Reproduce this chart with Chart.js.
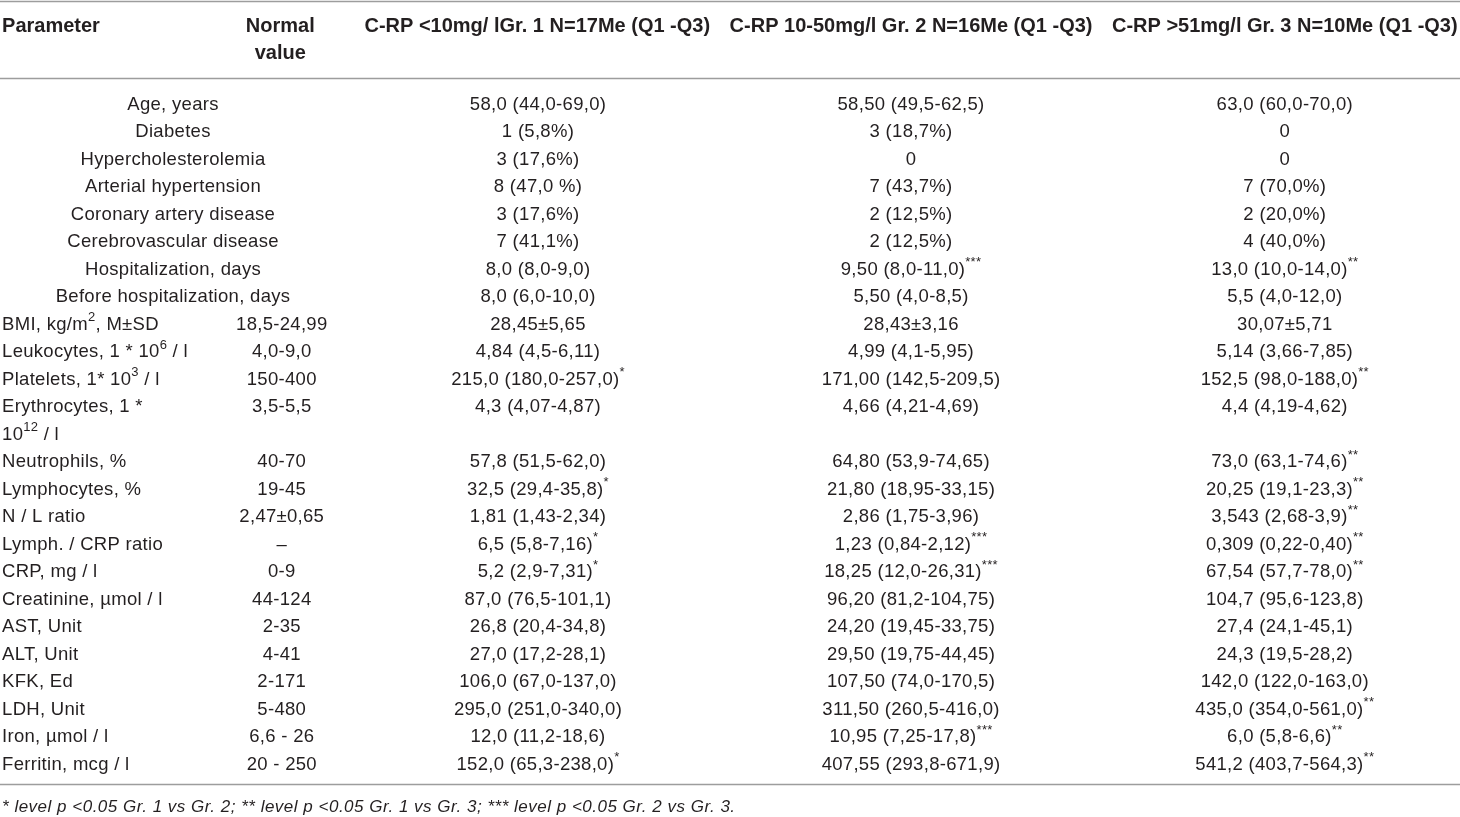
<!DOCTYPE html>
<html>
<head>
<meta charset="utf-8">
<script src="https://cdn.jsdelivr.net/npm/chart.js@4.4.1/dist/chart.umd.min.js"></script>
<style>
  html, body { margin: 0; padding: 0; background: #fff; }
  #box { width: 1460px; height: 817px; }
</style>
</head>
<body>
<div id="box"><canvas id="tabela"></canvas></div>
<script>
// column headers ("\n" = line break)
const headers = [
  'Parameter',
  'Normal\nvalue',
  'C-RP <10mg/ lGr. 1 N=17Me (Q1 -Q3)',
  'C-RP 10-50mg/l Gr. 2 N=16Me (Q1 -Q3)',
  'C-RP >51mg/l Gr. 3 N=10Me (Q1 -Q3)'
];

// ^x^ = superscript
const parameters = [
  'Age, years',
  'Diabetes',
  'Hypercholesterolemia',
  'Arterial hypertension',
  'Coronary artery disease',
  'Cerebrovascular disease',
  'Hospitalization, days',
  'Before hospitalization, days',
  'BMI, kg/m^2^, M±SD',
  'Leukocytes, 1 * 10^6^ / l',
  'Platelets, 1* 10^3^ / l',
  'Erythrocytes, 1 *\n10^12^ / l',
  'Neutrophils, %',
  'Lymphocytes, %',
  'N / L ratio',
  'Lymph. / CRP ratio',
  'CRP, mg / l',
  'Creatinine, µmol / l',
  'AST, Unit',
  'ALT, Unit',
  'KFK, Ed',
  'LDH, Unit',
  'Iron, µmol / l',
  'Ferritin, mcg / l'
];

const normalValues = [
  '', '', '', '', '', '', '', '',
  '18,5-24,99',
  '4,0-9,0',
  '150-400',
  '3,5-5,5',
  '40-70',
  '19-45',
  '2,47±0,65',
  '–',
  '0-9',
  '44-124',
  '2-35',
  '4-41',
  '2-171',
  '5-480',
  '6,6 - 26',
  '20 - 250'
];

const group1 = [
  '58,0 (44,0-69,0)',
  '1 (5,8%)',
  '3 (17,6%)',
  '8 (47,0 %)',
  '3 (17,6%)',
  '7 (41,1%)',
  '8,0 (8,0-9,0)',
  '8,0 (6,0-10,0)',
  '28,45±5,65',
  '4,84 (4,5-6,11)',
  '215,0 (180,0-257,0)^*^',
  '4,3 (4,07-4,87)',
  '57,8 (51,5-62,0)',
  '32,5 (29,4-35,8)^*^',
  '1,81 (1,43-2,34)',
  '6,5 (5,8-7,16)^*^',
  '5,2 (2,9-7,31)^*^',
  '87,0 (76,5-101,1)',
  '26,8 (20,4-34,8)',
  '27,0 (17,2-28,1)',
  '106,0 (67,0-137,0)',
  '295,0 (251,0-340,0)',
  '12,0 (11,2-18,6)',
  '152,0 (65,3-238,0)^*^'
];

const group2 = [
  '58,50 (49,5-62,5)',
  '3 (18,7%)',
  '0',
  '7 (43,7%)',
  '2 (12,5%)',
  '2 (12,5%)',
  '9,50 (8,0-11,0)^***^',
  '5,50 (4,0-8,5)',
  '28,43±3,16',
  '4,99 (4,1-5,95)',
  '171,00 (142,5-209,5)',
  '4,66 (4,21-4,69)',
  '64,80 (53,9-74,65)',
  '21,80 (18,95-33,15)',
  '2,86 (1,75-3,96)',
  '1,23 (0,84-2,12)^***^',
  '18,25 (12,0-26,31)^***^',
  '96,20 (81,2-104,75)',
  '24,20 (19,45-33,75)',
  '29,50 (19,75-44,45)',
  '107,50 (74,0-170,5)',
  '311,50 (260,5-416,0)',
  '10,95 (7,25-17,8)^***^',
  '407,55 (293,8-671,9)'
];

const group3 = [
  '63,0 (60,0-70,0)',
  '0',
  '0',
  '7 (70,0%)',
  '2 (20,0%)',
  '4 (40,0%)',
  '13,0 (10,0-14,0)^**^',
  '5,5 (4,0-12,0)',
  '30,07±5,71',
  '5,14 (3,66-7,85)',
  '152,5 (98,0-188,0)^**^',
  '4,4 (4,19-4,62)',
  '73,0 (63,1-74,6)^**^',
  '20,25 (19,1-23,3)^**^',
  '3,543 (2,68-3,9)^**^',
  '0,309 (0,22-0,40)^**^',
  '67,54 (57,7-78,0)^**^',
  '104,7 (95,6-123,8)',
  '27,4 (24,1-45,1)',
  '24,3 (19,5-28,2)',
  '142,0 (122,0-163,0)',
  '435,0 (354,0-561,0)^**^',
  '6,0 (5,8-6,6)^**^',
  '541,2 (403,7-564,3)^**^'
];

// first rows are centred over the first two columns
const centredRows = 8;

const footnote = '* level p <0.05 Gr. 1 vs Gr. 2; ** level p <0.05 Gr. 1 vs Gr. 3; *** level p <0.05 Gr. 2 vs Gr. 3.';

// layout (x in % of width, y in text-line slots)
const colX = { left: 0.14, merged: 11.85, normal: 19.3, g1: 36.85, g2: 62.4, g3: 88.0 };
const headerX = [0.14, 19.2, 36.8, 62.4, 88.0];
const headerY = [-2.78, -1.8];
const ruleY = [-3.72, -0.91, 24.78];
const footY = 25.56;

const corTexto = '#231f20';
const corLinha = '#9d9d9d';
const fonteBody = '18.5px "Liberation Sans", Arial, sans-serif';
const fonteSup = '13px "Liberation Sans", Arial, sans-serif';
const fonteHead = 'bold 20px "Liberation Sans", Arial, sans-serif';
const fonteNota = 'italic 17px "Liberation Sans", Arial, sans-serif';

function partes(texto) {
  return texto.split('^').map((t, i) => ({ t: t, sup: i % 2 == 1 }));
}

function larguraTexto(ctx, texto, fonte) {
  let w = 0;
  partes(texto).forEach(p => {
    ctx.font = p.sup ? fonteSup : fonte;
    w += ctx.measureText(p.t).width;
  });
  return w;
}

function escrever(ctx, texto, x, y, align, fonte, espaco) {
  ctx.letterSpacing = (espaco || 0) + 'px';
  let w = larguraTexto(ctx, texto, fonte);
  let px = align == 'center' ? x - w / 2 : x;
  partes(texto).forEach(p => {
    ctx.font = p.sup ? fonteSup : fonte;
    ctx.fillText(p.t, px, p.sup ? y - 7 : y);
    px += ctx.measureText(p.t).width;
  });
  ctx.letterSpacing = '0px';
}

const tabelaPlugin = {
  id: 'tabela',
  afterDraw(chart) {
    const ctx = chart.ctx;
    const sx = chart.scales.x;
    const sy = chart.scales.y;
    ctx.save();
    ctx.textBaseline = 'middle';
    ctx.fillStyle = corTexto;

    // rules
    ctx.strokeStyle = corLinha;
    ctx.lineWidth = 1.6;
    ruleY.forEach(r => {
      let y = Math.round(sy.getPixelForValue(r)) + 0.5;
      ctx.beginPath();
      ctx.moveTo(sx.left, y);
      ctx.lineTo(sx.right, y);
      ctx.stroke();
    });

    // header
    headers.forEach((h, c) => {
      h.split('\n').forEach((linha, k) => {
        escrever(ctx, linha, sx.getPixelForValue(headerX[c]), sy.getPixelForValue(headerY[k]),
          c == 0 ? 'left' : 'center', fonteHead, 0);
      });
    });

    // body
    ctx.translate(0, 1.5);
    let slot = 0;
    for (let i = 0; i < parameters.length; i++) {
      let linhas = parameters[i].split('\n');
      let y = sy.getPixelForValue(slot);
      linhas.forEach((linha, k) => {
        if (i < centredRows) {
          escrever(ctx, linha, sx.getPixelForValue(colX.merged), sy.getPixelForValue(slot + k), 'center', fonteBody, 0.3);
        } else {
          escrever(ctx, linha, sx.getPixelForValue(colX.left), sy.getPixelForValue(slot + k), 'left', fonteBody, 0.3);
        }
      });
      if (normalValues[i]) escrever(ctx, normalValues[i], sx.getPixelForValue(colX.normal), y, 'center', fonteBody, 0.3);
      escrever(ctx, group1[i], sx.getPixelForValue(colX.g1), y, 'center', fonteBody, 0.3);
      escrever(ctx, group2[i], sx.getPixelForValue(colX.g2), y, 'center', fonteBody, 0.3);
      escrever(ctx, group3[i], sx.getPixelForValue(colX.g3), y, 'center', fonteBody, 0.3);
      slot += linhas.length;
    }

    // footnote
    escrever(ctx, footnote, sx.getPixelForValue(colX.left), sy.getPixelForValue(footY), 'left', fonteNota, 0.5);
    ctx.restore();
  }
};

const config = {
  type: 'scatter',
  data: { datasets: [] },
  options: {
    responsive: true,
    maintainAspectRatio: false,
    animation: false,
    devicePixelRatio: 1,
    layout: { padding: 0 },
    plugins: { legend: { display: false }, tooltip: { enabled: false } },
    scales: {
      x: { type: 'linear', min: 0, max: 100, display: false },
      y: { type: 'linear', reverse: true, min: -103 / 27.5, max: 714 / 27.5, display: false }
    }
  },
  plugins: [tabelaPlugin]
};

window.myChart = new Chart(document.getElementById('tabela'), config);
</script>
</body>
</html>
